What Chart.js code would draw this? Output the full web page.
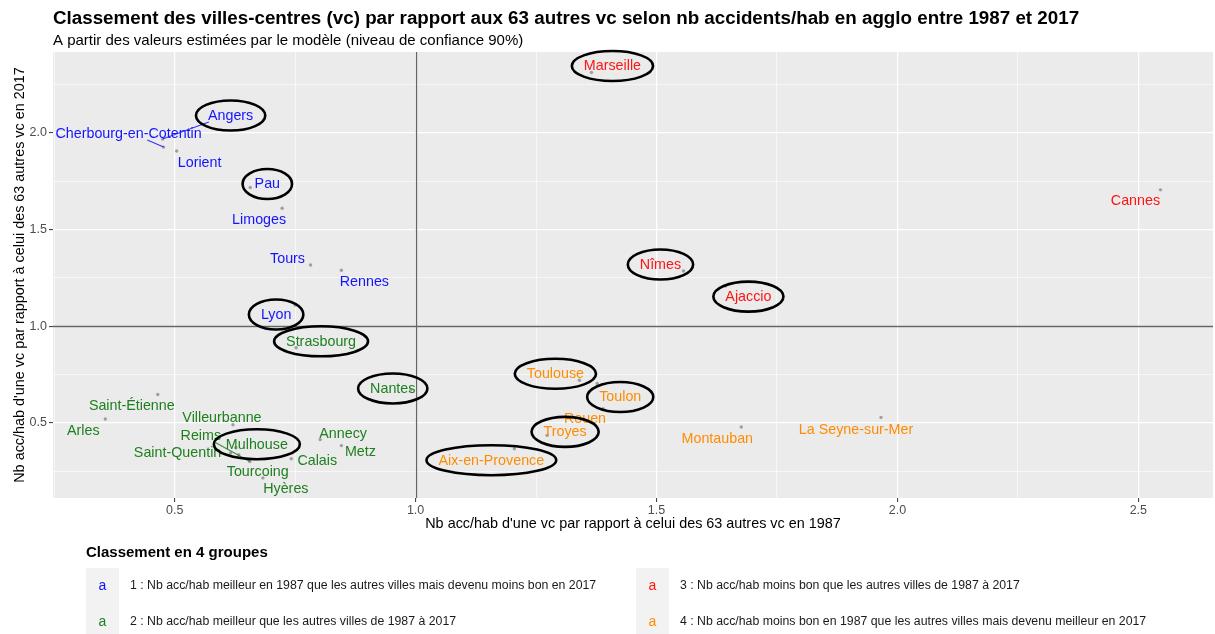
<!DOCTYPE html>
<html lang="fr">
<head>
<meta charset="utf-8">
<title>Classement des villes-centres</title>
<script src="https://cdn.jsdelivr.net/npm/chart.js@4/dist/chart.umd.min.js"></script>
<style>
  html, body { margin: 0; padding: 0; background: #ffffff; }
  #cadre { position: relative; width: 1215px; height: 634px; }
</style>
</head>
<body>
<div id="cadre"><canvas id="graphique"></canvas></div>
<script>
// Groupe 1 : meilleur en 1987, moins bon en 2017
const villesG1 = ['Angers', 'Cherbourg-en-Cotentin', 'Lorient', 'Pau', 'Limoges', 'Tours', 'Rennes', 'Lyon'];
const g1_1987 = [0.475, 0.477, 0.504, 0.657, 0.723, 0.782, 0.846, 0.750];
const g1_2017 = [1.968, 1.926, 1.906, 1.717, 1.610, 1.316, 1.289, 1.109];

// Groupe 2 : meilleur de 1987 à 2017
const villesG2 = ['Strasbourg', 'Nantes', 'Saint-Étienne', 'Arles', 'Villeurbanne', 'Reims', 'Mulhouse',
                  'Saint-Quentin', 'Tourcoing', 'Hyères', 'Annecy', 'Metz', 'Calais'];
const g2_1987 = [0.752, 0.990, 0.465, 0.356, 0.621, 0.656, 0.627, 0.616, 0.633, 0.683, 0.802, 0.846, 0.742];
const g2_2017 = [0.888, 0.670, 0.646, 0.520, 0.490, 0.300, 0.371, 0.344, 0.335, 0.215, 0.413, 0.382, 0.314];

// Groupe 3 : moins bon de 1987 à 2017
const villesG3 = ['Marseille', 'Nîmes', 'Ajaccio', 'Cannes'];
const g3_1987 = [1.365, 1.556, 1.643, 2.546];
const g3_2017 = [2.312, 1.285, 1.207, 1.705];

// Groupe 4 : moins bon en 1987, meilleur en 2017
const villesG4 = ['Toulouse', 'Toulon', 'Rouen', 'Troyes', 'Aix-en-Provence', 'Montauban', 'La Seyne-sur-Mer'];
const g4_1987 = [1.340, 1.377, 1.389, 1.273, 1.205, 1.676, 1.966];
const g4_2017 = [0.720, 0.703, 0.573, 0.435, 0.366, 0.478, 0.528];

const libellesGroupes = [
  '1 : Nb acc/hab meilleur en 1987 que les autres villes mais devenu moins bon en 2017',
  '2 : Nb acc/hab meilleur que les autres villes de 1987 à 2017',
  '3 : Nb acc/hab moins bon que les autres villes de 1987 à 2017',
  '4 : Nb acc/hab moins bon en 1987 que les autres villes mais devenu meilleur en 2017'
];

// Graduations (principales tous les 0.5, secondaires entre elles)
const ticksX = [0.25, 0.5, 0.75, 1.0, 1.25, 1.5, 1.75, 2.0, 2.25, 2.5];
const ticksY = [0.25, 0.5, 0.75, 1.0, 1.25, 1.5, 1.75, 2.0, 2.25];

// Villes mises en évidence par une ellipse
const villesEntourees = ['Marseille', 'Angers', 'Pau', 'Lyon', 'Strasbourg', 'Nantes', 'Mulhouse',
                         'Nîmes', 'Ajaccio', 'Toulouse', 'Toulon', 'Troyes', 'Aix-en-Provence'];

const titre = 'Classement des villes-centres (vc) par rapport aux 63 autres vc selon nb accidents/hab en agglo entre 1987 et 2017';
const sousTitre = 'A partir des valeurs estimées par le modèle (niveau de confiance 90%)';
const titreX = "Nb acc/hab d'une vc par rapport à celui des 63 autres vc en 1987";
const titreY = "Nb acc/hab d'une vc par rapport à celui des 63 autres vc en 2017";
const titreLegende = 'Classement en 4 groupes';

// ---- mise en forme ----
const POLICE = '"Liberation Sans", Arial, Helvetica, sans-serif';
const couleurs = ['#1414ff', '#1e7f1e', '#ff1414', '#ff8c00'];

// Décalage des étiquettes (px) par rapport à leur point, façon ggrepel
const decalages = {
  'Angers': [68, -25], 'Cherbourg-en-Cotentin': [-35, -15], 'Lorient': [23, 10], 'Pau': [17, -5],
  'Limoges': [-23, 10], 'Tours': [-23, -8], 'Rennes': [23, 10], 'Lyon': [-19, 8],
  'Strasbourg': [25, -8], 'Nantes': [-18, -3], 'Saint-Étienne': [-26, 9], 'Arles': [-22, 10],
  'Villeurbanne': [-11, -9], 'Reims': [-49, -27], 'Mulhouse': [21, -5], 'Saint-Quentin': [-53, -2],
  'Tourcoing': [19, 15], 'Hyères': [23, 9], 'Annecy': [23, -8], 'Metz': [19, 4], 'Calais': [26, 0],
  'Marseille': [21, -8], 'Nîmes': [-23, -8], 'Ajaccio': [23, 9], 'Cannes': [-25, 9],
  'Toulouse': [-24, -8], 'Toulon': [23, 12], 'Rouen': [-18, 8], 'Troyes': [18, -5],
  'Aix-en-Provence': [-23, 10], 'Montauban': [-24, 10], 'La Seyne-sur-Mer': [-25, 11]
};

function points(xs, ys, noms) {
  return xs.map((x, i) => ({ x: x, y: ys[i], ville: noms[i] }));
}

const jeux = [
  points(g1_1987, g1_2017, villesG1),
  points(g2_1987, g2_2017, villesG2),
  points(g3_1987, g3_2017, villesG3),
  points(g4_1987, g4_2017, villesG4)
].map((d, i) => ({
  label: libellesGroupes[i],
  data: d,
  pointRadius: 1.7,
  pointHoverRadius: 1.7,
  pointBackgroundColor: 'rgba(140,140,140,0.8)',
  pointBorderWidth: 0,
  couleur: couleurs[i]
}));

const estPrincipale = v => Math.abs(v * 2 - Math.round(v * 2)) < 1e-6;

// Fond du panneau
const fondPanneau = {
  id: 'fondPanneau',
  beforeDraw(chart) {
    const { ctx, chartArea: a } = chart;
    ctx.save();
    ctx.fillStyle = '#ebebeb';
    ctx.fillRect(a.left, a.top, a.right - a.left, a.bottom - a.top);
    ctx.restore();
  }
};

// Droites de référence x = 1 et y = 1
const droitesReference = {
  id: 'droitesReference',
  beforeDatasetsDraw(chart) {
    const { ctx, chartArea: a, scales } = chart;
    const px = Math.round(scales.x.getPixelForValue(1)) + 0.5;
    const py = Math.round(scales.y.getPixelForValue(1)) + 0.5;
    ctx.save();
    ctx.strokeStyle = '#666666';
    ctx.lineWidth = 1.3;
    ctx.beginPath();
    ctx.moveTo(px, a.top); ctx.lineTo(px, a.bottom);
    ctx.moveTo(a.left, py); ctx.lineTo(a.right, py);
    ctx.stroke();
    ctx.restore();
  }
};

// Étiquettes, segments et ellipses
const etiquettes = {
  id: 'etiquettes',
  afterDatasetsDraw(chart) {
    const { ctx, scales } = chart;
    ctx.save();
    ctx.font = '14.3px ' + POLICE;
    ctx.textAlign = 'center';
    ctx.textBaseline = 'middle';
    const ellipses = [];
    chart.data.datasets.forEach(ds => {
      ds.data.forEach(p => {
        const x0 = scales.x.getPixelForValue(p.x);
        const y0 = scales.y.getPixelForValue(p.y);
        const d = decalages[p.ville] || [0, 0];
        const cx = x0 + d[0], cy = y0 + d[1];
        const w = ctx.measureText(p.ville).width;
        const hw = w / 2 + 1, hh = 8;
        // segment depuis le bord de l'étiquette jusqu'au point
        const dx = x0 - cx, dy = y0 - cy;
        const t = Math.min(dx !== 0 ? hw / Math.abs(dx) : Infinity, dy !== 0 ? hh / Math.abs(dy) : Infinity);
        if (t < 1) {
          const sx = cx + dx * t, sy = cy + dy * t;
          const long = Math.hypot(x0 - sx, y0 - sy);
          if (long > 15) {
            ctx.strokeStyle = ds.couleur;
            ctx.globalAlpha = 0.85;
            ctx.lineWidth = 1.1;
            ctx.beginPath();
            ctx.moveTo(sx, sy);
            ctx.lineTo(x0, y0);
            ctx.stroke();
            ctx.globalAlpha = 1;
          }
        }
        ctx.fillStyle = ds.couleur;
        ctx.fillText(p.ville, cx, cy + 2);
        if (villesEntourees.includes(p.ville)) ellipses.push({ cx, cy: cy + 1.5, rx: w / 2 + 12, ry: 15 });
      });
    });
    ctx.strokeStyle = '#000000';
    ctx.lineWidth = 2.6;
    ellipses.forEach(e => {
      ctx.beginPath();
      ctx.ellipse(e.cx, e.cy, e.rx, e.ry, 0, 0, Math.PI * 2);
      ctx.stroke();
    });
    ctx.restore();
  }
};

// Titres, titres d'axes et légende
const habillage = {
  id: 'habillage',
  afterDraw(chart) {
    const { ctx, chartArea: a } = chart;
    ctx.save();
    ctx.fillStyle = '#000000';
    ctx.textBaseline = 'middle';
    ctx.textAlign = 'left';
    ctx.font = 'bold 18.8px ' + POLICE;
    ctx.fillText(titre, a.left, 19);
    ctx.font = '15px ' + POLICE;
    ctx.fillText(sousTitre, a.left, 41);

    // titres d'axes
    ctx.font = '14.4px ' + POLICE;
    ctx.textAlign = 'center';
    ctx.fillText(titreX, (a.left + a.right) / 2, 524);
    ctx.save();
    ctx.translate(20, (a.top + a.bottom) / 2);
    ctx.rotate(-Math.PI / 2);
    ctx.fillText(titreY, 0, 0);
    ctx.restore();

    // légende
    ctx.textAlign = 'left';
    ctx.font = 'bold 15px ' + POLICE;
    ctx.fillText(titreLegende, 86, 553);
    const cols = [86, 636];
    const rows = [586, 622];
    const cle = 33, pas = 36;
    libellesGroupes.forEach((lib, i) => {
      const col = Math.floor(i / 2), row = i % 2;
      const x = cols[col], y = rows[row];
      ctx.fillStyle = '#f2f2f2';
      ctx.fillRect(x, y - pas / 2, cle, pas);
      ctx.fillStyle = couleurs[i];
      ctx.font = '14px ' + POLICE;
      ctx.textAlign = 'center';
      ctx.fillText('a', x + cle / 2, y);
      ctx.fillStyle = '#1a1a1a';
      ctx.font = '12.3px ' + POLICE;
      ctx.textAlign = 'left';
      ctx.fillText(lib, x + cle + 11, y);
    });
    ctx.restore();
  }
};

const axeCommun = (valeurs) => ({
  type: 'linear',
  border: { display: false },
  grid: {
    drawTicks: true,
    tickLength: 4,
    color: '#ffffff',
    lineWidth: c => (estPrincipale(c.tick.value) ? 1.2 : 0.6),
    tickColor: c => (estPrincipale(c.tick.value) ? '#333333' : 'rgba(0,0,0,0)'),
    tickWidth: 1
  },
  ticks: {
    autoSkip: false,
    color: '#4d4d4d',
    font: { family: POLICE, size: 12.5 },
    callback: v => (estPrincipale(v) ? v.toFixed(1) : '')
  },
  afterBuildTicks: s => { s.ticks = valeurs.map(v => ({ value: v })); }
});

const options = {
  responsive: false,
  animation: false,
  events: [],
  layout: { padding: { left: 0, right: 2, top: 52, bottom: 116 } },
  plugins: { legend: { display: false }, tooltip: { enabled: false }, title: { display: false } },
  scales: {
    x: Object.assign(axeCommun(ticksX), {
      min: 0.2475, max: 2.655,
      afterFit: s => { s.height = 20; }
    }),
    y: Object.assign(axeCommun(ticksY), {
      min: 0.111, max: 2.418,
      afterFit: s => { s.width = 53; }
    })
  }
};
options.scales.x.ticks.padding = 1;
options.scales.y.ticks.padding = 2;

const canvas = document.getElementById('graphique');
canvas.width = 1215;
canvas.height = 634;
new Chart(canvas, {
  type: 'scatter',
  data: { datasets: jeux },
  options: options,
  plugins: [fondPanneau, droitesReference, etiquettes, habillage]
});
</script>
</body>
</html>
